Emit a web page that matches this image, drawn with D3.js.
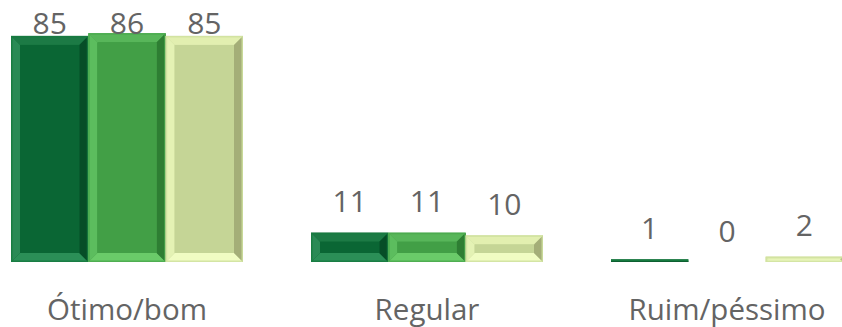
<!DOCTYPE html>
<html>
<head>
<meta charset="utf-8">
<script src="https://cdn.jsdelivr.net/npm/d3@7"></script>
<style>
  html, body { margin: 0; padding: 0; background: #ffffff; }
  svg { display: block; }
</style>
</head>
<body>
<svg id="chart" width="842" height="327"></svg>
<script>
// Survey result per category, three series each
const categories = ["Ótimo/bom", "Regular", "Ruim/péssimo"];
const seriesNames = ["s1", "s2", "s3"];
const seriesA = [85, 11, 1];
const seriesB = [86, 11, 0];
const seriesC = [85, 10, 2];
const seriesValues = [seriesA, seriesB, seriesC];

// Bevel palette per series: base, top, left, right, bottom, frame
const palettes = [
  { base: "#0a6634", top: "#1c7a45", left: "#2a8a55", right: "#064d27", bottom: "#2b8f57", frame: "#167a3f" },
  { base: "#429f46", top: "#58b65a", left: "#5cbd5e", right: "#2e7e33", bottom: "#6acb69", frame: "#4aa94d" },
  { base: "#c5d596", top: "#e2efb0", left: "#e4f2b4", right: "#a4ae78", bottom: "#f0fcc2", frame: "#cfe09f" }
];

const width = 842, height = 327;
const svg = d3.select("#chart");
const fontFamily = "'Open Sans', 'Noto Sans', sans-serif";
const textColor = "#646464";

const x = d3.scaleBand()
  .domain(categories)
  .range([-23, 877])
  .paddingInner(68 / 300)
  .paddingOuter(34 / 300);

const xs = d3.scaleBand()
  .domain(seriesNames)
  .range([0, x.bandwidth()]);

const y = d3.scaleLinear()
  .domain([0, 98.5])
  .range([262, 0]);

const rows = [];
categories.forEach((c, ci) => {
  seriesNames.forEach((s, si) => {
    rows.push({ cat: c, ser: s, si, value: seriesValues[si][ci] });
  });
});

const gBars = svg.append("g");

function bevelBar(g, x0, y0, w, h, p) {
  if (h <= 0) return;
  const x1 = x0 + w, y1 = y0 + h;
  g.append("rect").attr("x", x0).attr("y", y0).attr("width", w).attr("height", h).attr("fill", p.base);
  const b = Math.min(9, h / 2, w / 2);
  if (h < 4) {
    // very short bars render as a flat strip
    g.append("rect").attr("x", x0).attr("y", y0).attr("width", w).attr("height", h).attr("fill", p.frame);
    g.append("rect").attr("x", x0).attr("y", y1 - Math.min(1, h)).attr("width", w).attr("height", Math.min(1, h)).attr("fill", p.right).attr("opacity", 0.6);
    return;
  }
  const poly = (pts, fill) => g.append("polygon").attr("points", pts.map(q => q.join(",")).join(" ")).attr("fill", fill);
  // trapezoids around the inner panel
  poly([[x0, y0], [x1, y0], [x1 - b, y0 + b], [x0 + b, y0 + b]], p.top);
  poly([[x0, y1], [x1, y1], [x1 - b, y1 - b], [x0 + b, y1 - b]], p.bottom);
  poly([[x0, y0], [x0 + b, y0 + b], [x0 + b, y1 - b], [x0, y1]], p.left);
  poly([[x1, y0], [x1 - b, y0 + b], [x1 - b, y1 - b], [x1, y1]], p.right);
  g.append("rect").attr("x", x0 + b).attr("y", y0 + b).attr("width", Math.max(0, w - 2 * b)).attr("height", Math.max(0, h - 2 * b))
    .attr("fill", p.base);
  // outer frame
  g.append("rect").attr("x", x0 + 0.75).attr("y", y0 + 0.75).attr("width", w - 1.5).attr("height", h - 1.5)
    .attr("fill", "none").attr("stroke", p.frame).attr("stroke-width", 1.5).attr("opacity", 0.85);
}

rows.forEach(d => {
  const x0 = x(d.cat) + xs(d.ser);
  const top = y(d.value);
  bevelBar(gBars, x0, top, xs.bandwidth(), y(0) - top, palettes[d.si]);
});

// value labels above each bar
svg.append("g").selectAll("text")
  .data(rows)
  .join("text")
  .attr("x", d => x(d.cat) + xs(d.ser) + xs.bandwidth() / 2)
  .attr("y", d => Math.max(33.5, y(d.value) - 20.5))
  .attr("text-anchor", "middle")
  .attr("font-family", fontFamily)
  .attr("font-size", 30)
  .attr("font-weight", 500)
  .attr("fill", textColor)
  .text(d => d.value);

// category axis labels
const xAxis = d3.axisBottom(x).tickSize(0).tickPadding(0);
const gx = svg.append("g").attr("transform", "translate(0,319.5)").call(xAxis);
gx.select(".domain").remove();
gx.selectAll("text")
  .attr("dy", 0)
  .attr("y", 0)
  .attr("font-family", fontFamily)
  .attr("font-size", 29.5)
  .attr("font-weight", 500)
  .attr("fill", textColor);
</script>
</body>
</html>
